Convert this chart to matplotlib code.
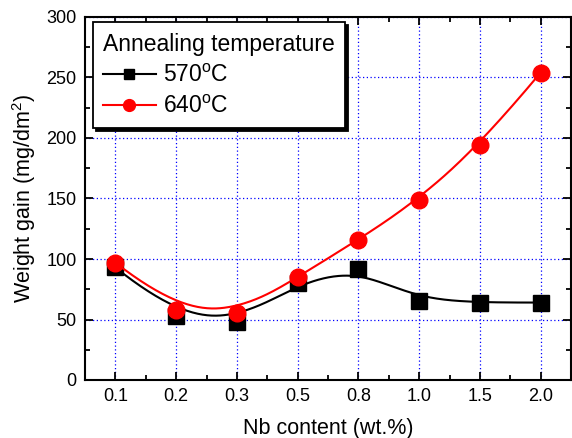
import numpy as np
import matplotlib
matplotlib.use("Agg")
import matplotlib.pyplot as plt
from matplotlib.ticker import MultipleLocator

plt.rcParams["font.family"] = ["Liberation Sans", "DejaVu Sans"]
plt.rcParams["mathtext.fontset"] = "custom"
plt.rcParams["mathtext.rm"] = "Liberation Sans"

# data
nb_labels = ["0.1", "0.2", "0.3", "0.5", "0.8", "1.0", "1.5", "2.0"]
gain_570 = [93, 53, 48, 80, 92, 65, 64, 64]
gain_640 = [97, 58, 55, 85, 116, 149, 194, 254]


def bspline(px, py, n_out=300):
    """clamped uniform cubic B-spline using the points as control points"""
    P = np.column_stack([px, py]).astype(float)
    n = len(P)
    k = 3
    knots = np.concatenate([np.zeros(k), np.arange(n - k + 1), np.full(k, n - k)]).astype(float)
    t = np.linspace(0, n - k, n_out)
    t[-1] -= 1e-9
    # Cox-de Boor
    N = np.zeros((n_out, len(knots) - 1))
    for i in range(len(knots) - 1):
        N[:, i] = (t >= knots[i]) & (t < knots[i + 1])
    for d in range(1, k + 1):
        Nn = np.zeros((n_out, len(knots) - 1 - d))
        for i in range(len(knots) - 1 - d):
            a = knots[i + d] - knots[i]
            b = knots[i + d + 1] - knots[i + 1]
            left = (t - knots[i]) / a * N[:, i] if a > 0 else 0
            right = (knots[i + d + 1] - t) / b * N[:, i + 1] if b > 0 else 0
            Nn[:, i] = left + right
        N = Nn
    C = N @ P
    return C[:, 0], C[:, 1]


x = np.arange(len(nb_labels))

fig = plt.figure(figsize=(5.72, 4.38), dpi=100)
ax = fig.add_axes([85 / 572, 1 - 380 / 438, (571 - 85) / 572, (380 - 17) / 438])

ax.grid(True, color="#0000ff", linestyle=(0, (1, 2)), linewidth=0.9)
ax.set_axisbelow(True)

sx, sy = bspline(x, gain_570)
ax.plot(sx, sy, color="black", linewidth=1.5, zorder=3)
ax.plot(x, gain_570, linestyle="none", marker="s", markersize=11, color="black", zorder=4)

sx, sy = bspline(x, gain_640)
ax.plot(sx, sy, color="red", linewidth=1.5, zorder=5)
ax.plot(x, gain_640, linestyle="none", marker="o", markersize=12, color="red", zorder=6)

# legend handles
h1, = ax.plot([], [], color="black", marker="s", markersize=7.5, linewidth=1.5)
h2, = ax.plot([], [], color="red", marker="o", markersize=8.5, linewidth=1.5)
leg = ax.legend([h1, h2], [r"570$^{\rm o}$C", r"640$^{\rm o}$C"],
                title="Annealing temperature", loc="upper left",
                bbox_to_anchor=(0.016, 0.985), fontsize=16.5, title_fontsize=16.5,
                frameon=True, fancybox=False, shadow={"color": "black", "alpha": 1},
                handlelength=2.3, handletextpad=0.3, borderpad=0.45,
                labelspacing=0.35, alignment="left", borderaxespad=0)
leg.get_frame().set_edgecolor("black")
leg.get_frame().set_linewidth(1.3)
leg.set_zorder(10)

ax.set_xlim(-0.5, 7.5)
ax.set_ylim(0, 300)
ax.set_xticks(x)
ax.set_xticklabels(nb_labels)
ax.xaxis.set_minor_locator(MultipleLocator(0.5))
ax.yaxis.set_major_locator(MultipleLocator(50))
ax.yaxis.set_minor_locator(MultipleLocator(25))
ax.tick_params(which="both", direction="in", top=True, right=True, width=1.3,
               labelsize=13, pad=6)
ax.tick_params(which="major", length=6)
ax.tick_params(which="minor", length=3.5)
for s in ax.spines.values():
    s.set_linewidth(1.5)

ax.set_xlabel("Nb content (wt.%)", fontsize=15.5, labelpad=9)
ax.set_ylabel(r"Weight gain (mg/dm$^2$)", fontsize=15.5, labelpad=6)

fig.savefig("out.png", dpi=100)
